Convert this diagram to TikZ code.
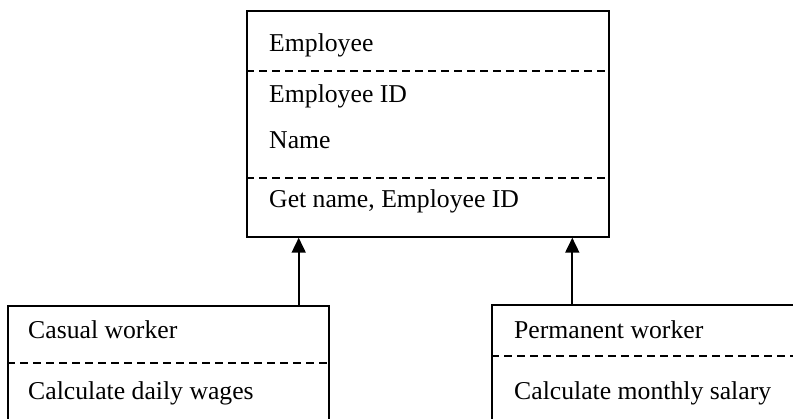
\documentclass[tikz,border=0pt]{standalone}
\usepackage{fontspec}
\setmainfont{Liberation Serif}
\usetikzlibrary{arrows.meta,positioning}

\tikzset{
    classbox/.style={draw, black, line width=1.4pt, rectangle, inner sep=0pt},
    member/.style={anchor=base west, inner sep=0pt, font=\fontsize{25.7}{30}\selectfont},
    divider/.style={black, line width=1.2pt, dash pattern=on 8pt off 5pt},
    inherit/.style={black, line width=1.8pt, -{Triangle[length=15pt, width=14pt]}}
}

\begin{document}
\begin{tikzpicture}[x=1pt, y=-1pt]
    \useasboundingbox (0,0) rectangle (793,419);

    % parent class
    \node[classbox, minimum width=362pt, minimum height=226pt] (emp) at (428,124) {};
    \node[member] (empname) at (269,51.7) {Employee};
    \node[member] (empid) at (269,103) {Employee ID};
    \node[member] (empattr) at (269,149) {Name};
    \node[member] (empop) at (269,208) {Get name, Employee ID};
    \draw[divider] (emp.west |- 0,71) -- (emp.east |- 0,71);
    \draw[divider] (emp.west |- 0,178) -- (emp.east |- 0,178);

    % sub classes
    \node[classbox, minimum width=321pt, minimum height=154pt] (casual) at (168.5,383) {};
    \node[member] (casname) at (28,339) {Casual worker};
    \node[member] (casop) at (28,400) {Calculate daily wages};
    \draw[divider] (casual.west |- 0,363) -- (casual.east |- 0,363);

    \node[classbox, minimum width=338pt, minimum height=155pt] (perm) at (661,382.5) {};
    \node[member] (permname) at (514,339) {Permanent worker};
    \node[member] (permop) at (514,400) {Calculate monthly salary};
    \draw[divider] (perm.west |- 0,356) -- (perm.east |- 0,356);

    % generalisation
    \coordinate (up1) at ([xshift=-31pt]casual.north east);
    \coordinate (up2) at ([xshift=81pt]perm.north west);
    \draw[inherit] (up1) -- (up1 |- emp.south);
    \draw[inherit] (up2) -- (up2 |- emp.south);
\end{tikzpicture}
\end{document}
